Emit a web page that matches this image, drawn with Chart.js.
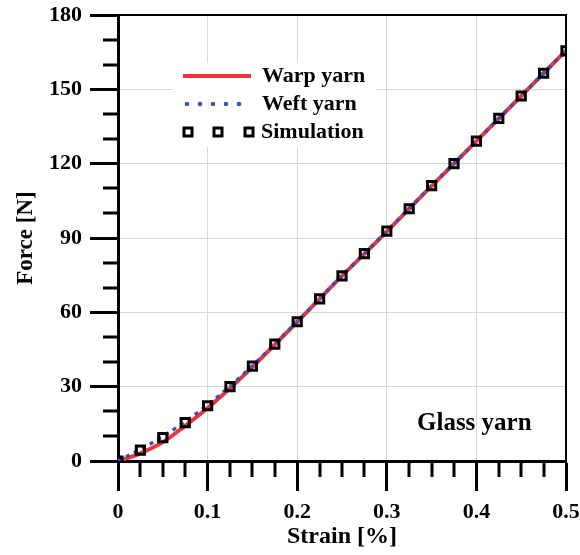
<!DOCTYPE html>
<html>
<head>
<meta charset="utf-8">
<script src="https://cdn.jsdelivr.net/npm/chart.js@4.4.1/dist/chart.umd.min.js"></script>
<style>
  html, body { margin: 0; padding: 0; background: #fff; }
  #wrap { width: 580px; height: 555px; }
</style>
</head>
<body>
<div id="wrap"><canvas id="forceChart" width="580" height="555"></canvas></div>
<script>
// strain [%] at each sample, force [N]
const strain = [0, 0.025, 0.05, 0.075, 0.1, 0.125, 0.15, 0.175, 0.2, 0.225, 0.25,
	0.275, 0.3, 0.325, 0.35, 0.375, 0.4, 0.425, 0.45, 0.475, 0.5];
const warpForce = [0, 3.1, 7.6, 14.2, 21.4, 29.4, 37.9, 47.0, 56.1, 65.4, 74.7,
	83.6, 92.6, 101.8, 111.0, 120.0, 129.1, 138.2, 147.3, 156.5, 165.6];
const weftForce = [0, 4.7, 9.9, 15.9, 22.6, 30.2, 38.4, 47.3, 56.3, 65.5, 74.8,
	83.7, 92.7, 101.9, 111.1, 120.1, 129.1, 138.3, 147.3, 156.5, 165.7];
const simForce = [0, 4.4, 9.4, 15.5, 22.3, 30.0, 38.3, 47.2, 56.2, 65.4, 74.7,
	83.7, 92.8, 101.8, 111.1, 120.0, 129.1, 138.3, 147.3, 156.5, 165.5];
const seriesNames = ['Warp yarn', 'Weft yarn', 'Simulation'];
const panelLabel = 'Glass yarn';

const RED = 'rgb(238,52,58)';
const BLUE = 'rgb(58,82,184)';
const serif = '"Liberation Serif", "Times New Roman", serif';

const toXY = (ys) => strain.map((x, i) => ({ x: x, y: ys[i] }));

// minor ticks, frame and the in-plot legend
const extras = {
	id: 'extras',
	afterDatasetsDraw(chart) {
		const c = chart.ctx;
		const xs = chart.scales.x;
		const ys = chart.scales.y;
		const a = chart.chartArea;
		c.save();
		c.strokeStyle = '#000';
		c.lineWidth = 3;
		c.beginPath();
		for (let i = 1; i < 20; i++) {
			if (i % 4 === 0) continue;
			const px = Math.round(xs.getPixelForValue(i * 0.025));
			c.moveTo(px, a.bottom);
			c.lineTo(px, a.bottom + 16);
		}
		for (let v = 10; v < 180; v += 10) {
			if (v % 30 === 0) continue;
			const py = Math.round(ys.getPixelForValue(v));
			c.moveTo(a.left - 15, py);
			c.lineTo(a.left, py);
		}
		c.stroke();
		// top and right frame
		c.lineWidth = 2;
		c.beginPath();
		c.moveTo(a.left, a.top);
		c.lineTo(a.right, a.top);
		c.lineTo(a.right, a.bottom);
		c.stroke();

		// legend
		c.fillStyle = '#fff';
		c.fillRect(173, 63, 203, 84);
		c.lineCap = 'butt';
		c.strokeStyle = RED;
		c.lineWidth = 4;
		c.beginPath();
		c.moveTo(183, 76);
		c.lineTo(251, 76);
		c.stroke();
		c.fillStyle = BLUE;
		for (let k = 0; k < 5; k++) {
			c.beginPath();
			c.arc(187 + k * 13, 104, 2.3, 0, Math.PI * 2);
			c.fill();
		}
		c.strokeStyle = '#000';
		c.lineWidth = 3;
		[188, 218, 249].forEach((sx) => c.strokeRect(sx - 4, 128, 8, 8));
		c.fillStyle = '#000';
		c.font = 'bold 22px ' + serif;
		c.textBaseline = 'middle';
		c.textAlign = 'left';
		c.fillText(seriesNames[0], 262, 76);
		c.fillText(seriesNames[1], 262, 104);
		c.fillText(seriesNames[2], 261, 132);

		c.font = 'bold 25px ' + serif;
		c.fillText(panelLabel, 417, 424);
		c.restore();
	}
};

const ctx = document.getElementById('forceChart').getContext('2d');

const forceChart = new Chart(ctx, {
	type: 'line',
	data: {
		datasets: [
			{
				label: seriesNames[2],
				data: toXY(simForce),
				showLine: false,
				pointStyle: 'rect',
				pointRadius: 5.8,
				pointBorderWidth: 3,
				pointBorderColor: '#000',
				pointBackgroundColor: 'rgba(0,0,0,0)',
				order: 0
			},
			{
				label: seriesNames[1],
				data: toXY(weftForce),
				borderColor: BLUE,
				borderWidth: 3.5,
				borderDash: [4, 5],
				pointRadius: 0,
				cubicInterpolationMode: 'monotone',
				order: 1
			},
			{
				label: seriesNames[0],
				data: toXY(warpForce),
				borderColor: RED,
				borderWidth: 4,
				pointRadius: 0,
				cubicInterpolationMode: 'monotone',
				order: 2
			}
		]
	},
	options: {
		responsive: false,
		animation: false,
		events: [],
		layout: { padding: { top: 15, right: 14, left: 0, bottom: 0 } },
		plugins: {
			legend: { display: false },
			tooltip: { enabled: false }
		},
		scales: {
			x: {
				type: 'linear',
				min: 0,
				max: 0.5,
				afterFit: (scale) => {
					scale.height = 94;
					scale.paddingLeft = 0;
					scale.paddingRight = 0;
				},
				ticks: {
					stepSize: 0.1,
					color: '#000',
					padding: 8,
					font: { family: serif, weight: 'bold', size: 22 }
				},
				grid: {
					color: '#d5d9de',
					lineWidth: 1,
					tickColor: '#000',
					tickWidth: 3,
					tickLength: 30
				},
				border: { color: '#000', width: 3 },
				title: {
					display: true,
					text: 'Strain [%]',
					color: '#000',
					padding: { top: 0, bottom: 4 },
					font: { family: serif, weight: 'bold', size: 24 }
				}
			},
			y: {
				min: 0,
				max: 180,
				afterFit: (scale) => {
					scale.width = 118;
					scale.paddingTop = 0;
					scale.paddingBottom = 0;
				},
				ticks: {
					stepSize: 30,
					color: '#000',
					padding: 8,
					font: { family: serif, weight: 'bold', size: 22 }
				},
				grid: {
					color: '#d5d9de',
					lineWidth: 1,
					tickColor: '#000',
					tickWidth: 3,
					tickLength: 28
				},
				border: { color: '#000', width: 3 },
				title: {
					display: true,
					text: 'Force [N]',
					color: '#000',
					padding: { top: 12, bottom: 0 },
					font: { family: serif, weight: 'bold', size: 23 }
				}
			}
		}
	},
	plugins: [extras]
});
</script>
</body>
</html>
